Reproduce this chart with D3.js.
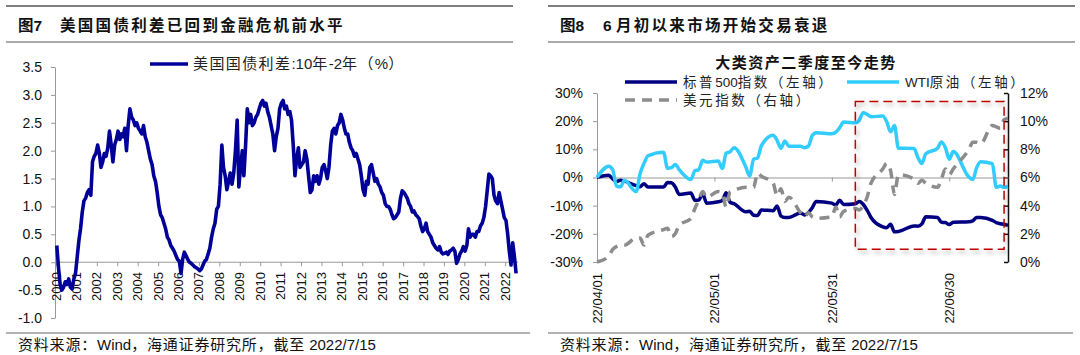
<!DOCTYPE html>
<html><head><meta charset="utf-8">
<script src="https://cdn.jsdelivr.net/npm/d3@7"></script>
<style>
body{margin:0;background:#fff;}
svg{display:block;font-family:"Liberation Sans","Noto Sans CJK SC",sans-serif;}
</style></head><body>
<svg id="c" width="1080" height="355"></svg>
<script>
// ---------------- Chart 1 data (monthly, mid-month, from 2000-01) ----------------
const spreadStartYear = 2000;
const spreadValues = [
  0.30,-0.10,-0.40,-0.50,-0.45,-0.35,-0.40,-0.30,-0.45,-0.48,-0.30,-0.20,
  0.10,0.40,0.60,0.90,1.10,1.15,1.25,1.30,1.20,1.80,1.90,1.95,
  2.10,1.95,1.70,1.80,1.95,1.90,2.05,2.35,2.10,1.80,2.10,2.20,
  2.35,2.20,2.30,2.25,2.40,2.00,2.45,2.75,2.60,2.55,2.45,2.50,
  2.40,2.35,2.30,2.45,2.25,2.15,2.00,1.85,1.75,1.55,1.45,1.25,
  1.00,0.85,0.80,0.70,0.60,0.45,0.40,0.30,0.25,0.20,0.12,0.05,
  0.02,-0.20,0.05,0.18,0.12,0.05,0.00,-0.02,-0.05,-0.08,-0.10,-0.12,
  -0.15,-0.12,-0.05,0.02,0.05,0.15,0.25,0.45,0.60,0.70,0.95,1.00,
  1.40,2.10,1.70,1.55,1.30,1.45,1.60,1.40,1.60,2.00,2.55,1.35,
  1.70,2.00,1.55,2.10,2.75,2.50,2.65,2.45,2.50,2.60,2.65,2.75,
  2.85,2.90,2.80,2.85,2.70,2.60,2.45,2.30,2.00,2.25,2.40,2.75,
  2.85,2.90,2.75,2.80,2.65,2.70,2.55,2.10,1.55,1.85,2.05,1.70,
  1.75,1.80,2.00,1.85,1.55,1.25,1.30,1.55,1.45,1.55,1.40,1.50,
  1.70,1.75,1.65,1.50,1.70,2.10,2.35,2.40,2.30,2.45,2.50,2.65,
  2.55,2.40,2.30,2.30,2.15,2.05,2.00,1.90,1.95,1.85,1.75,1.55,
  1.30,1.20,1.45,1.40,1.70,1.75,1.60,1.45,1.50,1.40,1.35,1.25,
  1.20,1.05,1.00,1.00,0.95,0.85,0.78,0.80,0.85,0.90,1.15,1.28,
  1.25,1.20,1.15,1.05,1.00,0.90,0.92,0.85,0.82,0.78,0.65,0.55,
  0.60,0.70,0.55,0.50,0.45,0.35,0.30,0.25,0.22,0.28,0.18,0.15,
  0.16,0.18,0.14,0.20,0.22,0.25,0.20,-0.02,0.05,0.15,0.20,0.28,
  0.20,0.30,0.60,0.45,0.50,0.50,0.45,0.55,0.55,0.65,0.70,0.80,
  1.00,1.30,1.58,1.55,1.50,1.20,1.10,1.05,1.25,1.10,0.95,0.80,
  0.75,0.50,0.20,-0.05,0.35,0.10,-0.20
];
const spreadYearLabels = ["2000","2001","2002","2003","2004","2005","2006","2007","2008","2009","2010",
  "2011","2012","2013","2014","2015","2016","2017","2018","2019","2020","2021","2022"];
const spreadYTicks = [-1.0,-0.5,0.0,0.5,1.0,1.5,2.0,2.5,3.0,3.5];

// ---------------- Chart 2 data (2022 trading days, % change since 04/01) ----------------
const tradeDates = ["04-01","04-04","04-05","04-06","04-07","04-08","04-11","04-12","04-13","04-14",
  "04-18","04-19","04-20","04-21","04-22","04-25","04-26","04-27","04-28","04-29",
  "05-02","05-03","05-04","05-05","05-06","05-09","05-10","05-11","05-12","05-13",
  "05-16","05-17","05-18","05-19","05-20","05-23","05-24","05-25","05-26","05-27","05-31",
  "06-01","06-02","06-03","06-06","06-07","06-08","06-09","06-10","06-13","06-14",
  "06-15","06-16","06-17","06-21","06-22","06-23","06-24","06-27","06-28","06-29","06-30",
  "07-01","07-05","07-06","07-07","07-08","07-11","07-12","07-13","07-14","07-15"];
const sp500Pct = [0,0.8,-0.5,-1.4,-1.0,-1.3,-2.9,-3.3,-2.2,-3.4,
  -3.4,-1.8,-1.9,-3.4,-6.0,-5.5,-8.1,-8.0,-5.7,-9.1,
  -8.6,-8.2,-5.4,-8.8,-9.3,-12.2,-12.0,-13.4,-13.5,-11.5,
  -11.8,-10.1,-13.7,-14.2,-14.2,-12.6,-13.3,-12.5,-10.7,-8.5,-9.1,
  -9.8,-8.1,-9.6,-9.3,-8.5,-9.5,-11.6,-14.2,-17.5,-17.8,
  -16.6,-19.3,-19.2,-17.2,-17.3,-16.5,-13.9,-14.2,-15.9,-16.0,-16.7,
  -15.9,-15.7,-15.4,-14.2,-14.2,-15.2,-16.0,-16.4,-16.6,-17.0];
const wtiPct = [0,4.0,2.8,-3.1,-3.3,-1.0,-5.0,1.3,5.0,7.7,
  9.0,3.3,3.5,4.6,2.8,-0.7,2.4,2.8,6.1,5.5,
  5.9,3.2,8.6,9.1,10.6,3.8,0.5,6.5,6.9,11.3,
  15.0,13.2,10.4,13.0,11.1,11.1,10.6,11.1,14.9,15.9,15.5,
  16.1,17.7,19.7,19.4,20.3,23.0,22.4,21.6,21.8,19.8,
  16.2,18.5,10.4,10.3,7.0,5.0,8.4,10.4,12.6,10.6,6.5,
  9.2,0.2,-0.7,3.5,5.6,4.9,-3.5,-3.0,-3.5,-3.2];
const dxyPct = [0,0.4,0.9,1.1,1.2,1.2,1.7,1.7,1.2,1.9,
  2.3,2.4,1.8,2.0,2.6,3.1,3.8,4.4,5.0,4.6,
  5.0,4.9,3.9,5.0,5.1,5.3,5.3,5.3,6.3,6.1,
  5.6,4.7,5.2,4.3,4.6,3.5,3.2,3.5,3.2,3.1,3.2,
  3.9,3.2,3.6,3.8,3.7,4.0,4.6,5.6,6.6,7.0,
  6.5,4.8,6.2,5.9,5.6,5.8,5.6,5.3,5.9,6.6,6.2,
  6.6,8.0,8.5,8.5,8.4,9.7,9.6,9.5,10.1,10.2];
const dateTickLabels = ["22/04/01","22/05/01","22/05/31","22/06/30"];
const leftTicks = [-30,-20,-10,0,10,20,30];
const rightTicks = [0,2,4,6,8,10,12];
const highlightDates = ["2022-06-06","2022-07-14"];
const highlightRange = [-25.5, 27];

// ---------------- drawing ----------------
const svg = d3.select("#c");
const defs = svg.append("defs");
const f = defs.append("filter").attr("id","sh").attr("x","-10%").attr("y","-10%").attr("width","130%").attr("height","130%");
f.append("feDropShadow").attr("dx",2).attr("dy",3).attr("stdDeviation",2).attr("flood-color","#000").attr("flood-opacity",0.35);

// text where only CJK runs get extra letter spacing
const cjkRe = /[\u3000-\u9fff\uff00-\uffef]/;
function mixedText(sel, str, spacing){
  const runs = [];
  for (const ch of str){
    const c = cjkRe.test(ch);
    if (runs.length && runs[runs.length-1].c === c) runs[runs.length-1].t += ch;
    else runs.push({c, t: ch});
  }
  runs.forEach(r => sel.append("tspan").attr("letter-spacing", r.c ? spacing : 0).text(r.t));
  return sel;
}

function frame(x0, x1, footEnd, figLabel, titleX, title){
  svg.append("line").attr("x1",x0).attr("x2",x1).attr("y1",6).attr("y2",6).attr("stroke","#555").attr("stroke-width",1.5);
  svg.append("line").attr("x1",x0).attr("x2",x1).attr("y1",42).attr("y2",42).attr("stroke","#aaa").attr("stroke-width",2);
  svg.append("line").attr("x1",x0).attr("x2",footEnd).attr("y1",333).attr("y2",333).attr("stroke","#999").attr("stroke-width",1.5);
  svg.append("text").attr("x",x0+12).attr("y",31).attr("font-size",15.5).attr("font-weight","bold").attr("fill","#111").text(figLabel);
  mixedText(svg.append("text").attr("x",titleX).attr("y",31).attr("font-size",15.5).attr("font-weight","bold").attr("fill","#111"), title, 2.3);
  mixedText(svg.append("text").attr("x",x0+12).attr("y",350).attr("font-size",15).attr("fill","#111"), "资料来源：Wind，海通证券研究所，截至 2022/7/15", 0.8);
}
frame(6, 513, 530, "图7", 60, "美国国债利差已回到金融危机前水平");
frame(548, 1075, 1073, "图8", 603, "6 月初以来市场开始交易衰退");

// ----- chart 1 -----
const sData = spreadValues.map((v,i)=>({date:new Date(spreadStartYear, i, 15), v}));
const x1 = d3.scaleTime().domain([new Date(2000,0,1), new Date(2023,0,1)]).range([56, 525.6]);
const y1 = d3.scaleLinear().domain([-1, 3.5]).range([318, 67]);
const g1 = svg.append("g");
const ya1 = g1.append("g").attr("transform","translate(55,0)")
  .call(d3.axisLeft(y1).tickValues(spreadYTicks).tickFormat(v=>v.toFixed(1)).tickSize(4).tickSizeOuter(0).tickPadding(9));
ya1.select(".domain").attr("stroke","#999");
ya1.selectAll(".tick line").attr("stroke","#999");
ya1.selectAll("text").attr("font-size",14).attr("fill","#111").attr("font-family","Liberation Sans, sans-serif");
const yearDates = spreadYearLabels.map(s=>new Date(+s,0,1));
const xa1 = g1.append("g").attr("transform",`translate(0,${y1(0)})`)
  .call(d3.axisBottom(x1).tickValues(yearDates).tickSize(4).tickSizeOuter(0).tickFormat(""));
xa1.select(".domain").remove();
xa1.selectAll(".tick line").attr("stroke","#999");
g1.append("line").attr("x1",55).attr("x2",x1(sData[sData.length-1].date)+2).attr("y1",y1(0)).attr("y2",y1(0)).attr("stroke","#999");
g1.selectAll("text.yl").data(spreadYearLabels).join("text").attr("class","yl")
  .attr("transform",(d,i)=>`translate(${x1(yearDates[i])+4.5},272) rotate(-90)`)
  .attr("text-anchor","end").attr("font-size",13).attr("fill","#111").text(d=>d);
g1.append("path").datum(sData).attr("fill","none").attr("stroke","#000099").attr("stroke-width",3.6).attr("stroke-linejoin","round")
  .attr("d", d3.line().x(d=>x1(d.date)).y(d=>y1(d.v)));
// legend
g1.append("line").attr("x1",150).attr("x2",188).attr("y1",64).attr("y2",64).attr("stroke","#000099").attr("stroke-width",3.5);
mixedText(g1.append("text").attr("x",193).attr("y",69).attr("font-size",15).attr("fill","#222"), "美国国债利差:10年-2年（%）", 1.4);

// ----- chart 2 -----
const parse = d3.timeParse("%Y-%m-%d");
const dts = tradeDates.map(s=>parse("2022-"+s));
const x2 = d3.scaleTime().domain([parse("2022-04-01"), parse("2022-07-15")]).range([597, 1008]);
const yL = d3.scaleLinear().domain([-30, 30]).range([262, 93]);
const yR = d3.scaleLinear().domain([0, 12]).range([262, 93]);
const g2 = svg.append("g");
const yaL = g2.append("g").attr("transform","translate(597,0)")
  .call(d3.axisLeft(yL).tickValues(leftTicks).tickFormat(v=>v+"%").tickSize(4).tickSizeOuter(0).tickPadding(10));
yaL.select(".domain").attr("stroke","#999");
yaL.selectAll(".tick line").attr("stroke","#999");
yaL.selectAll("text").attr("font-size",14).attr("fill","#111").attr("font-family","Liberation Sans, sans-serif");
const yaR = g2.append("g").attr("transform","translate(1008,0)")
  .call(d3.axisRight(yR).tickValues(rightTicks).tickFormat(v=>v+"%").tickSize(-4).tickSizeOuter(0).tickPadding(12));
yaR.select(".domain").attr("stroke","#111").attr("stroke-width",1.5);
yaR.selectAll(".tick line").attr("stroke","#111").attr("stroke-width",1.5);
yaR.selectAll("text").attr("font-size",14).attr("fill","#111").attr("font-family","Liberation Sans, sans-serif");
const tickDates = dateTickLabels.map(s=>parse("20"+s.replace(/\//g,"-")));
const xa2 = g2.append("g").attr("transform",`translate(0,${yL(0)})`)
  .call(d3.axisBottom(x2).tickValues(tickDates).tickSize(4).tickSizeOuter(0).tickFormat(""));
xa2.select(".domain").attr("stroke","#999");
xa2.selectAll(".tick line").attr("stroke","#999");
g2.selectAll("text.dl").data(dateTickLabels).join("text").attr("class","dl")
  .attr("transform",(d,i)=>`translate(${x2(tickDates[i])+5},273) rotate(-90)`)
  .attr("text-anchor","end").attr("font-size",13).attr("fill","#111").text(d=>d);

const curve = d3.curveMonotoneX;
const lineL = d3.line().x((d,i)=>x2(dts[i])).y(d=>yL(d)).curve(curve);
const lineR = d3.line().x((d,i)=>x2(dts[i])).y(d=>yR(d)).curve(curve);
g2.append("path").datum(sp500Pct).attr("fill","none").attr("stroke","#000080").attr("stroke-width",3.5).attr("stroke-linejoin","round").attr("d",lineL);
g2.append("path").datum(wtiPct).attr("fill","none").attr("stroke","#33CCFF").attr("stroke-width",3.5).attr("stroke-linejoin","round").attr("d",lineL);
g2.append("path").datum(dxyPct).attr("fill","none").attr("stroke","#8C8C8C").attr("stroke-width",3.5).attr("stroke-dasharray","10,7").attr("d",lineR);

// highlight box
const hx0 = x2(parse(highlightDates[0])), hx1 = x2(parse(highlightDates[1]));
g2.append("rect").attr("x",hx0).attr("y",yL(highlightRange[1])).attr("width",hx1-hx0).attr("height",yL(highlightRange[0])-yL(highlightRange[1]))
  .attr("fill","none").attr("stroke","#C00000").attr("stroke-width",1.5).attr("stroke-dasharray","9,5").attr("filter","url(#sh)");

// subtitle & legend
g2.append("text").attr("x",806).attr("y",68).attr("text-anchor","middle").attr("font-size",15).attr("font-weight","bold").attr("letter-spacing",1.5).attr("fill","#111").text("大类资产二季度至今走势");
const leg = [
  {x:625, y:82, color:"#000080", dash:null, label:"标普500指数（左轴）"},
  {x:847, y:82, color:"#33CCFF", dash:null, label:"WTI原油（左轴）"},
  {x:625, y:100, color:"#8C8C8C", dash:"10,7", label:"美元指数（右轴）"}
];
leg.forEach(l=>{
  g2.append("line").attr("x1",l.x).attr("x2",l.x+52).attr("y1",l.y).attr("y2",l.y).attr("stroke",l.color).attr("stroke-width",3.5).attr("stroke-dasharray",l.dash);
  mixedText(g2.append("text").attr("x",l.x+58).attr("y",l.y+5).attr("font-size",13.5).attr("fill","#222"), l.label, 2.6);
});
</script></body></html>
